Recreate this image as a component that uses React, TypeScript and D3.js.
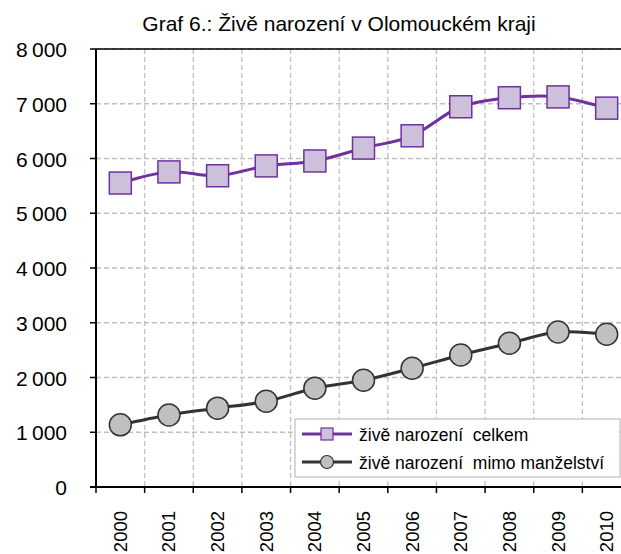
import React from "react";
import * as d3 from "d3";

const years = ["2000","2001","2002","2003","2004","2005","2006","2007","2008","2009","2010"];
const celkem = [5552, 5755, 5685, 5865, 5955, 6190, 6415, 6945, 7110, 7125, 6920];
const mimo = [1135, 1315, 1440, 1565, 1805, 1950, 2170, 2410, 2625, 2830, 2790];
const yTicks = [0, 1000, 2000, 3000, 4000, 5000, 6000, 7000, 8000];
const title = "Graf 6.: Živě narození v Olomouckém kraji";
const seriesNames = ["živě narození  celkem", "živě narození  mimo manželství"];

const W = 621, H = 554;
const left = 96, right = 631, top = 49, bottom = 487;
const font = "'Liberation Sans', Arial, sans-serif";

export default function App() {
  const x = d3.scaleBand().domain(years).range([left, right]);
  const y = d3.scaleLinear().domain([0, 8000]).range([bottom, top]);
  const cx = (i: number) => (x(years[i]) as number) + x.bandwidth() / 2;
  const line = d3.line<number>().x((_, i) => cx(i)).y((d) => y(d)).curve(d3.curveCatmullRom.alpha(0.5));
  const fmt = (v: number) => (v >= 1000 ? `${Math.floor(v / 1000)}\u2009${String(v % 1000).padStart(3, "0")}` : String(v));
  const boundaries = years.map((_, i) => left + i * x.bandwidth()).concat([right]);
  const purple = "#7030A0";
  const dark = "#333333";
  return (
    <svg width={W} height={H} style={{ position: "absolute", left: 0, top: 0, fontFamily: font }}>
      <rect width={W} height={H} fill="#fff" />
      <text x={339} y={31} textAnchor="middle" fontSize={21} fill="#000">{title}</text>
      {yTicks.filter((t) => t > 0).map((t) => (
        <line key={t} x1={left} x2={right} y1={y(t)} y2={y(t)} stroke="#C0C0C0" strokeWidth={1.3} strokeDasharray="5,3" />
      ))}
      {boundaries.slice(1, -1).map((b, i) => (
        <line key={i} x1={b} x2={b} y1={top} y2={bottom} stroke="#C0C0C0" strokeWidth={1.3} strokeDasharray="5,3" />
      ))}
      <line x1={left} x2={right} y1={top} y2={top} stroke="#000" strokeWidth={1.5} />
      <line x1={left} x2={left} y1={top} y2={bottom} stroke="#000" strokeWidth={2} />
      <line x1={left - 6} x2={right} y1={bottom} y2={bottom} stroke="#000" strokeWidth={2} />
      {yTicks.map((t) => (
        <g key={t}>
          <line x1={left - 6} x2={left} y1={y(t)} y2={y(t)} stroke="#000" strokeWidth={1.5} />
          <text x={67} y={y(t) + 8} textAnchor="end" fontSize={21} fill="#000">{fmt(t)}</text>
        </g>
      ))}
      {boundaries.map((b, i) => (
        <line key={i} x1={b} x2={b} y1={bottom} y2={bottom + 6} stroke="#000" strokeWidth={1.5} />
      ))}
      {years.map((yr, i) => (
        <text key={yr} transform={`translate(${cx(i) + 6.5},${bottom + 24}) rotate(-90)`} textAnchor="end" fontSize={18.5} fill="#000">{yr}</text>
      ))}
      <path d={line(celkem) || ""} fill="none" stroke={purple} strokeWidth={3} />
      <path d={line(mimo) || ""} fill="none" stroke={dark} strokeWidth={3} />
      {celkem.map((v, i) => (
        <rect key={i} x={cx(i) - 11} y={y(v) - 11} width={22} height={22} fill="#CCC0DA" stroke={purple} strokeWidth={1.5} />
      ))}
      {mimo.map((v, i) => (
        <circle key={i} cx={cx(i)} cy={y(v)} r={11} fill="#C0C0C0" stroke={dark} strokeWidth={1.5} />
      ))}
      <rect x={295} y={419} width={325} height={58} fill="#fff" stroke="#BFBFBF" strokeWidth={1.2} />
      <line x1={302} x2={352} y1={434} y2={434} stroke={purple} strokeWidth={3} />
      <rect x={321} y={428} width={12} height={12} fill="#CCC0DA" stroke={purple} strokeWidth={1.2} />
      <text x={359} y={441} fontSize={17.5} fill="#000" style={{ whiteSpace: "pre" }}>{seriesNames[0]}</text>
      <line x1={302} x2={352} y1={462} y2={462} stroke={dark} strokeWidth={3} />
      <circle cx={327} cy={462} r={6.5} fill="#C0C0C0" stroke={dark} strokeWidth={1.2} />
      <text x={359} y={469} fontSize={17.5} fill="#000" style={{ whiteSpace: "pre" }}>{seriesNames[1]}</text>
    </svg>
  );
}
